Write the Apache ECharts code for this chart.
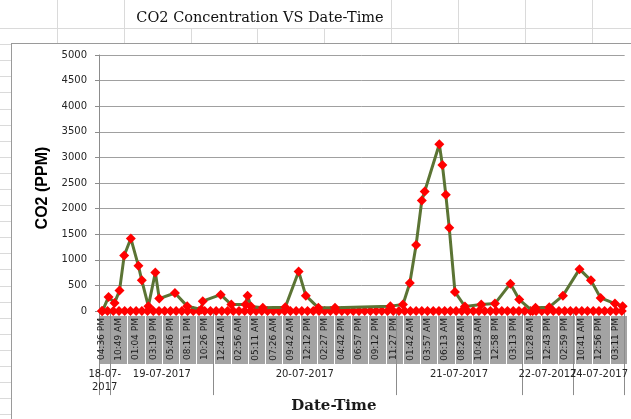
<!DOCTYPE html>
<html><head><meta charset="utf-8">
<script src="https://cdn.jsdelivr.net/npm/echarts@6/dist/echarts.min.js"></script>
<style>html,body{margin:0;padding:0;background:#fff}#c{width:631px;height:419px}</style>
</head><body><div id="c"></div>
<script>
// ---- data ----
const slotCount = 92;              // time slots on the category axis
const timeLabelEvery = 3;          // a tick label every 3rd slot
const timeLabels = ['04:36 PM','10:49 AM','01:04 PM','03:19 PM','05:46 PM','08:11 PM','10:26 PM',
  '12:41 AM','02:56 AM','05:11 AM','07:26 AM','09:42 AM','12:12 PM','02:27 PM','04:42 PM','06:57 PM',
  '09:12 PM','11:27 PM','01:42 AM','03:57 AM','06:13 AM','08:28 AM','10:43 AM','12:58 PM','03:13 PM',
  '10:28 AM','12:43 PM','02:59 PM','10:41 AM','12:56 PM','03:11 PM'];
const dateNames = ['18-07-2017','19-07-2017','20-07-2017','21-07-2017','22-07-2017','24-07-2017'];
const dateSlots = [2, 18, 32, 22, 9, 9];
// CO2 readings: position along the time axis (in slots) and value (PPM)
const co2Pos = [0.6,1.67,2.72,3.59,4.41,5.57,6.9,7.49,8.64,9.86,10.55,13.29,15.43,17.9,18.16,21.3,23.16,
  25.65,26.0,26.6,28.67,32.6,34.94,36.2,38.4,41.3,51.0,53.2,54.4,55.5,56.5,57.0,59.56,60.1,60.7,61.3,62.3,
  64.05,66.9,69.3,72.0,73.55,75.9,76.4,78.8,81.2,84.1,86.1,87.8,90.3,91.65];
const co2Val = [0,277,160,400,1084,1419,883,600,97,755,244,354,97,30,194,321,128,
  128,302,90,64,77,774,302,64,64,97,130,548,1290,2160,2335,3258,2852,2270,1626,374,
  90,128,147,535,225,0,64,77,302,819,600,257,147,97];
// second series: zero at every slot
const baseline = [0,0,0,0,0,0,0,0,0,0,0,0,0,0,0,0,0,0,0,0,0,0,0,0,0,0,0,0,0,0,0,0,0,0,0,0,0,0,0,0,0,0,0,0,0,0,
  0,0,0,0,0,0,0,0,0,0,0,0,0,0,0,0,0,0,0,0,0,0,0,0,0,0,0,0,0,0,0,0,0,0,0,0,0,0,0,0,0,0,0,0,0,0];
const yMax = 5000, yStep = 500;

// ---- derived axis data ----
const slotCats = Array.from({length: slotCount}, (_, i) => i % timeLabelEvery === 0 ? timeLabels[i / timeLabelEvery] : '');
const bounds = [0];
dateSlots.forEach(n => bounds.push(bounds[bounds.length - 1] + n));
const halfBounds = new Set(bounds.map(b => b * 2));
const centerIdx = {};
dateNames.forEach((d, k) => { centerIdx[bounds[k] + bounds[k + 1]] = k; });
const halfCats = Array.from({length: slotCount * 2 + 1}, (_, j) => j in centerIdx ? dateNames[centerIdx[j]] : ' ' + j);
const co2Data = co2Pos.map((p, i) => [p, co2Val[i]]);

// ---- spreadsheet backdrop ----
const sheetCols = [57,124,191,257,324,391,458,525,592];
const titleCell = [124, 391];
const rowTop = 28, rowH = 16.1, chartX = 11, chartY = 43;
const gridEls = [];
const sheetLine = (x1,y1,x2,y2,c) => ({type:'line', silent:true, z:-10,
  shape:{x1,y1,x2,y2}, style:{stroke:c||'#dadada', lineWidth:1}});
gridEls.push(sheetLine(0, rowTop + .5, 631, rowTop + .5));
for (let y = rowTop + rowH; y < 419; y += rowH) gridEls.push(sheetLine(0, Math.round(y) + .5, chartX, Math.round(y) + .5));
sheetCols.forEach(x => {
  const y1 = (x > titleCell[0] && x < titleCell[1]) ? rowTop : 0;
  gridEls.push(sheetLine(x + .5, y1, x + .5, chartY));
});
gridEls.push(sheetLine(chartX + .5, chartY, chartX + .5, 419, '#9a9a9a'));
gridEls.push(sheetLine(chartX, chartY + .5, 631, chartY + .5, '#9a9a9a'));

const font = 'DejaVu Sans';
const dateFmt = v => { const k = dateNames.indexOf(v); return (k >= 0 && dateSlots[k] < 4) ? v.replace(/-(\d{4})$/, '-\n$1') : v; };
const dateLabelAxis = (parity, withTicks) => ({
  type: 'category', gridIndex: 0, data: halfCats, boundaryGap: false, position: 'bottom',
  axisLine: {show: false},
  axisTick: {show: withTicks, length: 84, interval: i => halfBounds.has(i), lineStyle: {color: '#8c8c8c'}},
  axisLabel: {margin: 57, interval: i => (i in centerIdx) && centerIdx[i] % 2 === parity,
    fontFamily: font, fontSize: 10, color: '#262626', lineHeight: 13, hideOverlap: false, formatter: dateFmt}
});
const axisEven = dateLabelAxis(0, true);
axisEven.name = 'Date-Time';
axisEven.nameLocation = 'middle';
axisEven.nameGap = 82;
axisEven.nameTextStyle = {fontFamily: 'DejaVu Serif', fontSize: 15, fontWeight: 'bold', color: '#1a1a1a', padding: [0, 56, 0, 0]};

const chart = echarts.init(document.getElementById('c'), null, {renderer: 'canvas'});
chart.setOption({
  animation: false,
  backgroundColor: '#fff',
  graphic: gridEls,
  title: {
    text: 'CO2 Concentration VS Date-Time', left: 260, top: 11, textAlign: 'center', padding: 0,
    textStyle: {fontFamily: 'DejaVu Serif', fontSize: 14.5, fontWeight: 'normal', color: '#111'}
  },
  grid: [
    {left: 99, top: 55, width: 528, height: 258},
    {left: 99, top: 316, width: 528, height: 48, show: true, backgroundColor: '#a3a3a3', borderWidth: 0, z: -2}
  ],
  xAxis: [
    {
      type: 'category', gridIndex: 0, data: slotCats, boundaryGap: true,
      axisLine: {show: true, lineStyle: {color: '#8c8c8c'}},
      axisTick: {show: false},
      axisLabel: {rotate: 90, margin: 7, interval: i => i % timeLabelEvery === 0,
        fontFamily: font, fontSize: 9, color: '#1a1a1a'}
    },
    axisEven,
    {type: 'value', gridIndex: 0, min: 0, max: slotCount, show: false},
    {
      type: 'category', gridIndex: 1, data: slotCats, boundaryGap: true, z: -1,
      axisLine: {show: false}, axisTick: {show: false}, axisLabel: {show: false},
      splitLine: {show: true, interval: i => i % timeLabelEvery === 2, lineStyle: {color: '#ffffff', width: 1}}
    },
    dateLabelAxis(1, false)
  ],
  yAxis: [
    {
      type: 'value', gridIndex: 0, min: 0, max: yMax, interval: yStep,
      axisLine: {show: true, lineStyle: {color: '#8c8c8c'}},
      axisTick: {show: true, length: 4, lineStyle: {color: '#8c8c8c'}},
      axisLabel: {margin: 12, fontFamily: font, fontSize: 10, color: '#262626', formatter: v => String(v)},
      splitLine: {lineStyle: {color: '#a0a0a0', width: 1}},
      name: 'CO2 (PPM)', nameLocation: 'middle', nameGap: 48, nameRotate: 90,
      nameTextStyle: {fontFamily: 'Liberation Sans', fontSize: 16, fontWeight: 'bold', color: '#000', padding: [0, 10, 0, 0]}
    },
    {type: 'value', gridIndex: 1, show: false}
  ],
  series: [
    {
      name: 'Baseline', type: 'line', xAxisIndex: 0, yAxisIndex: 0, data: baseline, z: 2,
      symbol: 'diamond', symbolSize: 10, showSymbol: true, showAllSymbol: true,
      lineStyle: {color: '#ff0000', width: 3}, itemStyle: {color: '#ff0000'}
    },
    {
      name: 'CO2', type: 'line', xAxisIndex: 2, yAxisIndex: 0, data: co2Data, z: 3,
      symbol: 'diamond', symbolSize: 10, showSymbol: true, showAllSymbol: true,
      lineStyle: {color: '#5b7434', width: 3}, itemStyle: {color: '#ff0000'}
    }
  ]
});
</script></body></html>
